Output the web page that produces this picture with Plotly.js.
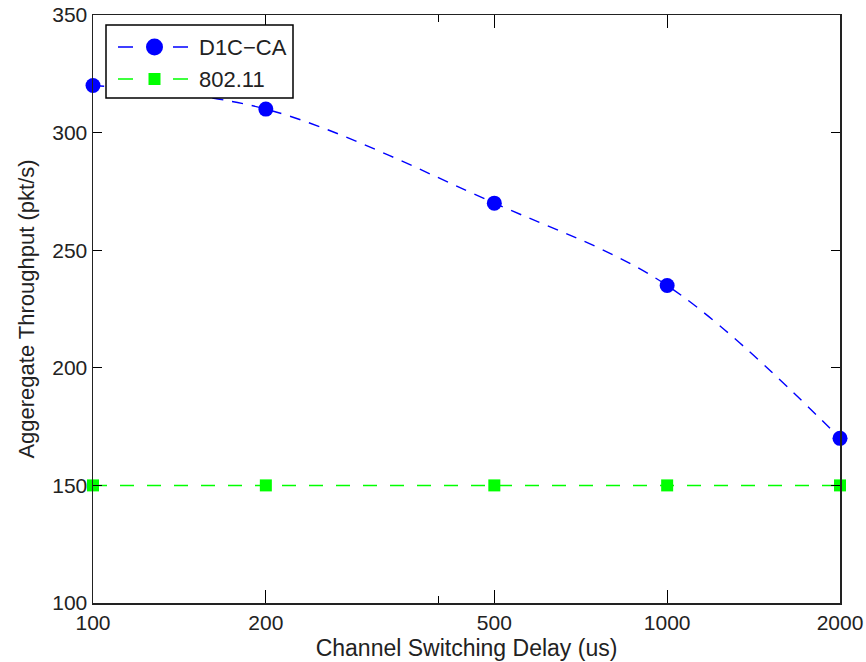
<!DOCTYPE html>
<html><head><meta charset="utf-8">
<script src="https://cdn.plot.ly/plotly-3.0.1.min.js"></script>
<style>body{margin:0;background:#fff}#c{width:866px;height:662px}</style>
</head><body><div id="c"></div>
<script>
const delays = [100, 200, 500, 1000, 2000];
const d1cca = [320, 310, 270, 235, 170];
const wifi = [150, 150, 150, 150, 150];
const seriesNames = ['D1C\u2212CA', '802.11'];
const xTicks = [100, 200, 500, 1000, 2000];
const xTickText = ['100', '200', '500', '1000', '2000'];
const yTicks = [100, 150, 200, 250, 300, 350];

const BLUE = '#0000ff', GREEN = '#00ff00', TXT = '#222';
const FAM = 'Liberation Sans, Arial, sans-serif';

const traces = [
  {x: delays, y: d1cca, name: seriesNames[0], mode: 'lines+markers',
   line: {color: BLUE, width: 1.4, dash: '11px,9px', shape: 'spline'},
   marker: {symbol: 'circle', size: 15, color: BLUE}, cliponaxis: false},
  {x: delays, y: wifi, name: seriesNames[1], mode: 'lines+markers',
   line: {color: GREEN, width: 1.5, dash: '14px,13px'},
   marker: {symbol: 'square', size: 12, color: GREEN}, cliponaxis: false}
];

// custom legend (pixel offsets from top-left corner of the plot area)
function px(sh) { return Object.assign({xref: 'paper', yref: 'paper', xanchor: 0, yanchor: 1,
  xsizemode: 'pixel', ysizemode: 'pixel', layer: 'above'}, sh); }
const rows = [{y: -32, color: BLUE, sym: 'circle'}, {y: -64, color: GREEN, sym: 'square'}];
const shapes = [px({type: 'rect', x0: 13, x1: 200, y0: -10, y1: -83,
  line: {color: '#000', width: 1.5}, fillcolor: '#fff'})];
const annotations = [];
rows.forEach((r, i) => {
  shapes.push(px({type: 'line', x0: 25, x1: 95, y0: r.y, y1: r.y,
    line: {color: r.color, width: 1.5, dash: '15px,40px'}}));
  if (r.sym === 'circle') {
    shapes.push(px({type: 'circle', x0: 53, x1: 70, y0: r.y - 8.5, y1: r.y + 8.5,
      line: {width: 0}, fillcolor: r.color}));
  } else {
    shapes.push(px({type: 'rect', x0: 55.5, x1: 67.5, y0: r.y - 6, y1: r.y + 6,
      line: {width: 0}, fillcolor: r.color}));
  }
  annotations.push({xref: 'paper', yref: 'paper', x: 0, y: 1, xanchor: 'left', yanchor: 'middle',
    xshift: 104, yshift: r.y, text: seriesNames[i], showarrow: false,
    font: {family: FAM, size: 22, color: TXT}});
});

const layout = {
  width: 866, height: 662,
  margin: {l: 93, r: 26, t: 15, b: 59},
  paper_bgcolor: '#fff', plot_bgcolor: '#fff',
  font: {family: FAM, size: 21, color: TXT},
  showlegend: false,
  shapes: shapes, annotations: annotations,
  xaxis: {type: 'log', range: [2, Math.log10(2000)],
    tickmode: 'array', tickvals: xTicks, ticktext: xTickText,
    ticks: 'inside', ticklen: 13, tickcolor: '#000', tickwidth: 1,
    minor: {tickmode: 'array', tickvals: [400], ticks: 'inside', ticklen: 7, tickcolor: '#000'},
    showline: true, linecolor: '#222', linewidth: 1.5, mirror: 'ticks',
    showgrid: false, zeroline: false,
    title: {text: 'Channel Switching Delay (us)', standoff: 7, font: {size: 23}},
    tickfont: {size: 21}},
  yaxis: {range: [100, 350], tickmode: 'array', tickvals: yTicks,
    ticks: 'inside', ticklen: 9, tickcolor: '#000', tickwidth: 1,
    showline: true, linecolor: '#222', linewidth: 1.5, mirror: 'ticks',
    showgrid: false, zeroline: false,
    title: {text: 'Aggeregate Throughput (pkt/s)', standoff: 11, font: {size: 22}},
    tickfont: {size: 21}}
};
Plotly.newPlot('c', traces, layout, {displayModeBar: false, staticPlot: true});
</script></body></html>
